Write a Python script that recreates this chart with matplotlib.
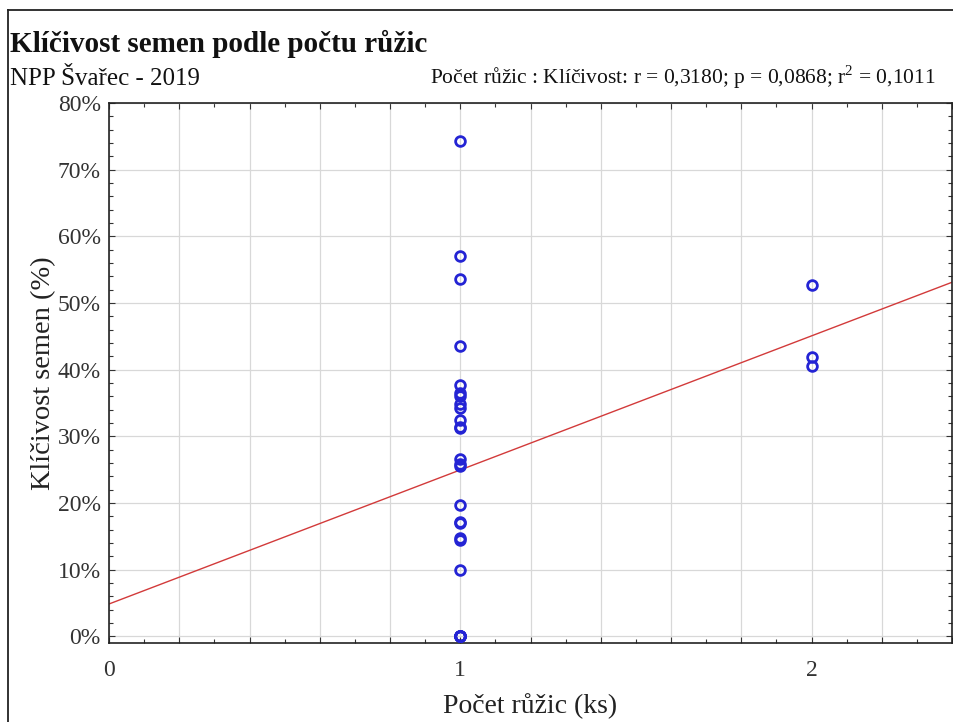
import numpy as np
import matplotlib
matplotlib.use("Agg")
import matplotlib.pyplot as plt
from matplotlib.ticker import MultipleLocator, FuncFormatter
from matplotlib.lines import Line2D

# data (germination in %)
rosettes_1 = [74.3, 57.1, 53.6, 43.6, 37.7, 36.5, 36.0, 34.8, 34.2, 32.5, 31.4, 31.2,
              26.6, 25.9, 25.5, 19.7, 17.2, 17.0, 14.8, 14.4, 9.9, 0, 0, 0, 0, 0, 0]
rosettes_2 = [52.7, 41.9, 40.6]

x_vals = [1] * len(rosettes_1) + [2] * len(rosettes_2)
y_vals = rosettes_1 + rosettes_2

title = "Klíčivost semen podle počtu růžic"
subtitle = "NPP Švařec - 2019"
stats_text = "Počet růžic : Klíčivost: r = 0,3180; p = 0,0868; r$^2$ = 0,1011"


def main():
    plt.rcParams["font.family"] = ["Liberation Serif", "DejaVu Serif"]
    plt.rcParams["mathtext.fontset"] = "custom"
    plt.rcParams["mathtext.rm"] = "Liberation Serif"

    fig = plt.figure(figsize=(9.54, 7.22), dpi=100)
    W, H = 954, 722
    ax = fig.add_axes([109 / W, 1 - 643 / H, (952 - 109) / W, (643 - 103) / H])

    x = np.array(x_vals, dtype=float)
    y = np.array(y_vals, dtype=float) / 100.0

    # linear fit
    slope, icpt = np.polyfit(x, y, 1)
    xs = np.array([0, 2.4])
    ax.plot(xs, icpt + slope * xs, color="#d23a3a", lw=1.0, zorder=2)

    ax.plot(x, y, "o", ms=7, mfc="none", mec="#2424d4", mew=2.0, zorder=3,
            clip_on=False)

    ax.set_xlim(0, 2.4)
    ax.set_ylim(-0.01, 0.80)

    ax.xaxis.set_major_locator(MultipleLocator(0.2))
    ax.xaxis.set_minor_locator(MultipleLocator(0.1))
    ax.xaxis.set_major_formatter(FuncFormatter(
        lambda v, p: "%d" % round(v) if abs(v - round(v)) < 1e-6 else ""))
    ax.yaxis.set_major_locator(MultipleLocator(0.1))
    ax.yaxis.set_minor_locator(MultipleLocator(0.02))
    ax.yaxis.set_major_formatter(FuncFormatter(lambda v, p: "%d%%" % round(v * 100)))

    ax.grid(True, which="major", color="#d8d8d8", lw=0.9)
    ax.set_axisbelow(True)
    ax.tick_params(which="both", direction="in", top=True, right=True,
                   colors="#333333", labelsize=17, width=0.8)
    ax.tick_params(which="major", length=4)
    ax.tick_params(which="minor", length=3)
    ax.tick_params(axis="x", pad=12)
    ax.tick_params(axis="y", pad=6)
    for lbl in ax.get_xticklabels() + ax.get_yticklabels():
        lbl.set_color("#333333")
    for s in ax.spines.values():
        s.set_color("#222222")
        s.set_linewidth(1.2)

    ax.set_xlabel("Počet růžic (ks)", fontsize=20, labelpad=9, color="#222222")
    ax.set_ylabel("Klíčivost semen (%)", fontsize=20.5, labelpad=1, color="#222222")

    fig.text(10 / W, 1 - 44 / H, title, fontsize=21, fontweight="bold",
             va="center", ha="left", color="#111111")
    fig.text(10 / W, 1 - 79 / H, subtitle, fontsize=18, va="center", ha="left",
             color="#111111")
    fig.text(936 / W, 1 - 77 / H, stats_text, fontsize=15.5, va="center", ha="right",
             color="#111111")

    # outer frame (left and top edge)
    fig.add_artist(Line2D([8 / W, 8 / W], [0, 1 - 10 / H], color="#222222", lw=1.3))
    fig.add_artist(Line2D([8 / W, 1], [1 - 10 / H, 1 - 10 / H], color="#222222", lw=1.3))

    fig.savefig("out.png", dpi=100)
    plt.close(fig)


if __name__ == "__main__":
    main()
